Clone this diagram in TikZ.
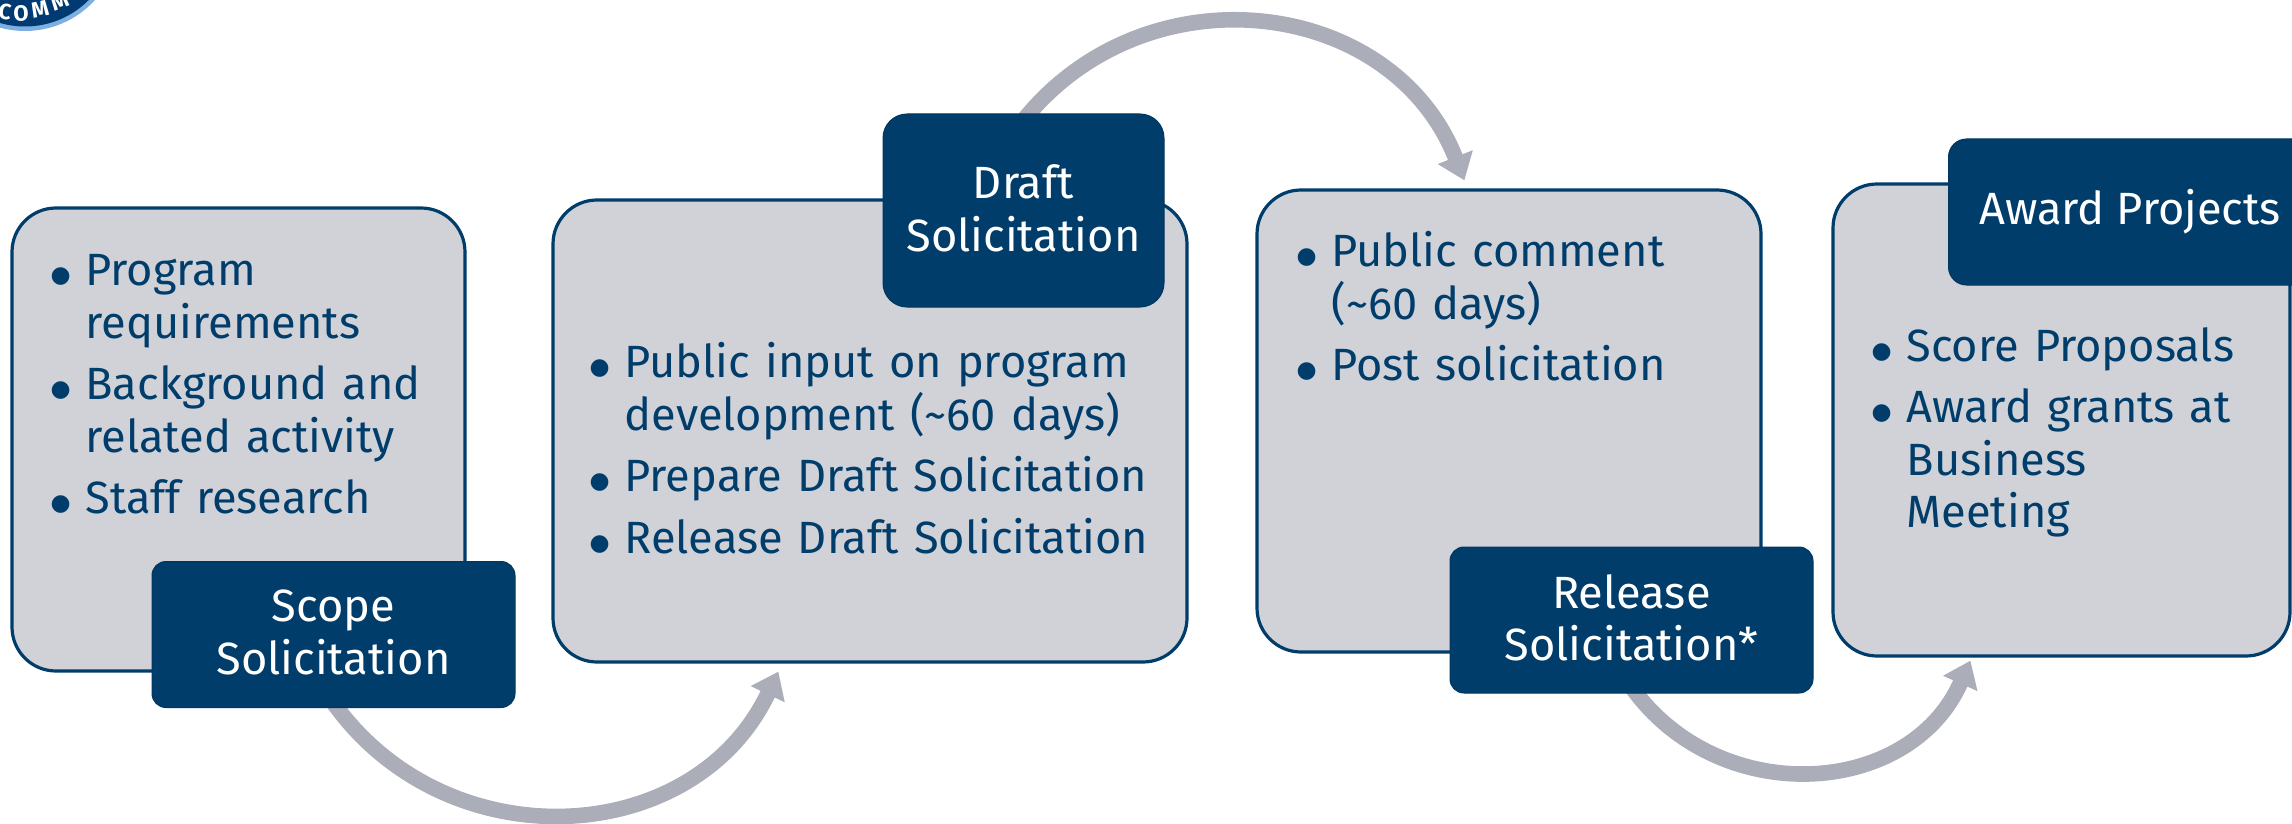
\documentclass[tikz,border=0pt]{standalone}
\usepackage{fontspec}
\setmainfont{Fira Sans}
\newfontfamily\bulfont{DejaVu Sans}
\usetikzlibrary{arrows.meta,backgrounds}
\definecolor{navy}{RGB}{0,61,107}
\definecolor{panelfill}{RGB}{208,210,216}
\definecolor{arc}{RGB}{171,174,185}
\definecolor{ringblue}{RGB}{125,175,225}
\newcommand{\itm}[1]{\setlength{\parskip}{4.4pt}\hangindent=16.8pt\hangafter=1\noindent\makebox[16.8pt][l]{\hspace{-0.6pt}\raisebox{1.5pt}{\bulfont\fontsize{11.5pt}{11.5pt}\selectfont ●}}#1\par}
\newcommand{\liftstrut}{\rule[-2.6pt]{0pt}{2.6pt}}
\tikzset{
  panel/.style={draw=navy,line width=1.6pt,fill=panelfill,rounded corners=22pt,inner sep=0pt},
  tag/.style={draw=navy!90!black,line width=0.5pt,fill=navy,text=white,inner sep=0pt,align=center,rounded corners=7pt,
    font=\fontsize{22.6pt}{26.3pt}\selectfont,minimum width=181.5pt,minimum height=73pt},
  body/.style={text=navy,inner sep=0pt,anchor=north west,align=left,
    font=\fontsize{22.6pt}{26.3pt}\selectfont},
  flow/.style={draw=arc,line width=7.8pt,-{Triangle[length=12.5pt,width=18pt]}},
  logol/.style={text=white,inner sep=0pt,font=\fontsize{11pt}{11pt}\selectfont\bfseries}
}
\begin{document}
\begin{tikzpicture}[x=0.5pt,y=-0.5pt]
\useasboundingbox (0,0) rectangle (2292,824);
\begin{scope}
\clip (0,0) rectangle (2292,824);
% logo
\node[circle,fill=ringblue,minimum size=94.5pt,inner sep=0pt] (logoring) at (25,-63.5) {};
\node[circle,fill=navy!95!blue,minimum size=90pt,inner sep=0pt] (logodisc) at (25,-63.5) {};
\node[logol,rotate=-8] (lc) at (5,12) {C};
\node[logol,rotate=3] (lo) at (21,13) {O};
\node[logol,rotate=12] (lm1) at (40,9) {M};
\node[logol,rotate=21] (lm2) at (60,1) {M};
% panels
\node[panel,minimum width=226.5pt,minimum height=231.5pt] (box1) at (238.5,439.5) {};
\node[panel,minimum width=317pt,minimum height=231pt] (box2) at (870,431) {};
\node[panel,minimum width=252pt,minimum height=231pt] (box3) at (1509,421) {};
\node[panel,minimum width=228.5pt,minimum height=236pt] (box4) at (2061.5,420) {};
% panel text
\node[body,text width=290pt] (t1) at (51.5,254) {%
\itm{Program\newline requirements}\itm{Background and\newline related activity}\itm{Staff research}};
\node[body,text width=290pt] (t2) at (590.5,342) {%
\itm{Public input on program\newline development (\textasciitilde60 days)}\itm{Prepare Draft Solicitation}\itm{Release Draft Solicitation}};
\node[body,text width=290pt] (t3) at (1297.5,231) {%
\itm{Public comment\newline (\textasciitilde60 days)}\itm{Post solicitation}};
\node[body,text width=200pt] (t4) at (1872.5,327) {%
\itm{Score Proposals}\itm{Award grants at\newline Business\newline Meeting}};
% tags
\node[tag] (scope) at (333.5,634.5) {Scope\\Solicitation\liftstrut};
\node[tag,rounded corners=12pt,minimum width=140.5pt,minimum height=96.5pt] (draft) at (1023.5,210.5) {Draft\\Solicitation\liftstrut};
\node[tag] (release) at (1631.5,620) {Release\\Solicitation*\liftstrut};
\node[tag,rounded corners=9pt] (award) at (2130,212) {Award Projects};
\end{scope}
% arrow ends
\coordinate (tip1) at ([shift={(227,8)}]box2.south west);
\coordinate (tip2) at ([shift={(209,-8)}]box3.north west);
\coordinate (tip3) at ([shift={(139,3)}]box4.south west);
\begin{pgfonlayer}{background}
\draw[flow] ([shift={(-1,-6.5)}]scope.south) .. controls +(113.5,161) and +(-84.5,178) .. (tip1);
\draw[flow] ([shift={(0.5,6)}]draft.north) .. controls +(124,-153) and +(-72,-183) .. (tip2);
\draw[flow] ([shift={(0,-6.5)}]release.south) .. controls +(87.4,122.4) and +(-61,137.5) .. (tip3);
\end{pgfonlayer}
\end{tikzpicture}
\end{document}
